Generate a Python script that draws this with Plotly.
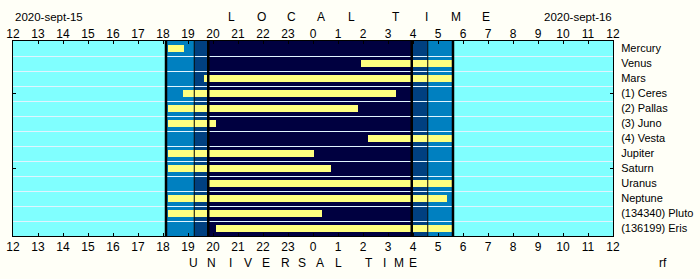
import plotly.graph_objects as go

# ---------------- data ----------------
bodies = ["Mercury", "Venus", "Mars", "(1) Ceres", "(2) Pallas", "(3) Juno", "(4) Vesta",
          "Jupiter", "Saturn", "Uranus", "Neptune", "(134340) Pluto", "(136199) Eris"]
# visibility start / end, in hours after 12:00 UT on 2020-sept-15
vis_start = [6.19, 13.92, 7.64, 6.80, 6.19, 6.19, 14.20, 6.19, 6.19, 7.81, 6.19, 6.19, 8.12]
vis_end = [6.84, 17.60, 17.60, 15.32, 13.80, 8.12, 17.60, 12.04, 12.72, 17.60, 17.36, 12.36, 17.60]

# twilight boundaries (hours after 12:00)
bounds = [0.0, 6.12, 7.25, 7.81, 15.95, 16.59, 17.60, 24.0]
band_colors = ["#80FFFF", "#0080C0", "#004080", "#000040", "#004080", "#0080C0", "#80FFFF"]
line_widths = [2.5, 1, 2.5, 2.5, 1, 2.5]  # at bounds[1:-1]

hour_vals = list(range(25))
hour_text = ["12", "13", "14", "15", "16", "17", "18", "19", "20", "21", "22", "23",
             "0", "1", "2", "3", "4", "5", "6", "7", "8", "9", "10", "11", "12"]

FONT = "Liberation Sans Narrow, Arial Narrow, Liberation Sans, Arial, sans-serif"
BG = "#FFFFF7"

# ---------------- figure ----------------
n = len(bodies)
rows = list(range(n))
fig = go.Figure()
fig.add_trace(go.Bar(
    y=rows, x=[e - s for s, e in zip(vis_start, vis_end)], base=vis_start,
    orientation="h", width=0.47, marker=dict(color="#FFFF80", line=dict(width=0)),
    hoverinfo="skip", showlegend=False))

L, R, T, B = 13, 613, 41, 236
row_px = (B - T) / n
half_px = 0.5 / row_px  # half a pixel in row units, for crisp 1px separators

shapes = []
for i in range(len(band_colors)):
    shapes.append(dict(type="rect", xref="x", yref="y", x0=bounds[i], x1=bounds[i + 1],
                       y0=-0.5, y1=n - 0.5, fillcolor=band_colors[i], line=dict(width=0),
                       layer="below"))
for i in range(1, n):
    yy = i - 0.5 + half_px
    shapes.append(dict(type="line", xref="x", yref="y", x0=0, x1=24, y0=yy, y1=yy,
                       line=dict(color="#E0F4FF", width=1), layer="between"))
for b, w in zip(bounds[1:-1], line_widths):
    shapes.append(dict(type="line", xref="x", yref="y", x0=b, x1=b, y0=-0.5, y1=n - 0.5,
                       line=dict(color="black", width=w), layer="above"))

def px(xp):
    return (xp - L) / (R - L)
def py(yp):
    return (B - yp) / (B - T)

ann = []
def txt(s, xp, yp, anchor="center", size=12):
    ann.append(dict(text=s, x=px(xp), y=py(yp), xref="paper", yref="paper",
                    xanchor=anchor, yanchor="middle", showarrow=False,
                    font=dict(family=FONT, size=size, color="black")))

txt("2020-sept-15", 13, 16.5, "left", 11.5)
txt("2020-sept-16", 614, 16.5, "right", 11.5)
for ch, xp in zip("LOCALTIME", [231, 261, 291, 321, 351, 396, 426, 456, 486]):
    txt(ch, xp, 16.5)
for ch, xp in zip("UNIVERSALTIME", [193, 211, 230, 248, 266, 285, 302, 320, 338, 369, 384, 399, 413]):
    txt(ch, xp, 263)
txt("rf", 663, 263)

axis_font = dict(family=FONT, size=11, color="black")
fig.update_layout(
    width=700, height=279, margin=dict(l=L, r=700 - R, t=T, b=279 - B, autoexpand=False),
    paper_bgcolor=BG, plot_bgcolor="#80FFFF", bargap=0,
    shapes=shapes, annotations=ann, showlegend=False,
    xaxis=dict(range=[0, 24], tickvals=hour_vals, ticktext=hour_text, ticks="inside",
               ticklen=3, tickcolor="black", showgrid=False, zeroline=False,
               showline=True, linecolor="black", linewidth=1, mirror=True,
               tickfont=dict(family=FONT, size=12, color="black"), fixedrange=True,
               automargin=False),
    xaxis2=dict(range=[0, 24], overlaying="x", side="top", anchor="y",
                tickvals=hour_vals, ticktext=hour_text, ticks="inside", ticklen=3,
                tickcolor="black", showgrid=False, zeroline=False, showline=False,
                tickfont=dict(family=FONT, size=12, color="black"), automargin=False),
    yaxis=dict(range=[n - 0.5, -0.5], tickvals=rows, ticktext=bodies, side="right",
               ticks="outside", ticklen=5, tickcolor="rgba(0,0,0,0)", showgrid=False,
               zeroline=False, showline=True, linecolor="black", linewidth=1, mirror=True,
               tickfont=axis_font, automargin=False),
    yaxis2=dict(range=[n - 0.5, -0.5], overlaying="y", side="left", anchor="x",
                tickvals=[3, 8], ticks="inside", ticklen=3, tickcolor="black",
                showticklabels=False, showgrid=False, zeroline=False, mirror="ticks",
                showline=False, automargin=False),
)
fig.add_trace(go.Scatter(x=[0], y=[0], xaxis="x2", yaxis="y2", mode="markers",
                         marker=dict(opacity=0), hoverinfo="skip", showlegend=False))
fig.write_html("out.html")
